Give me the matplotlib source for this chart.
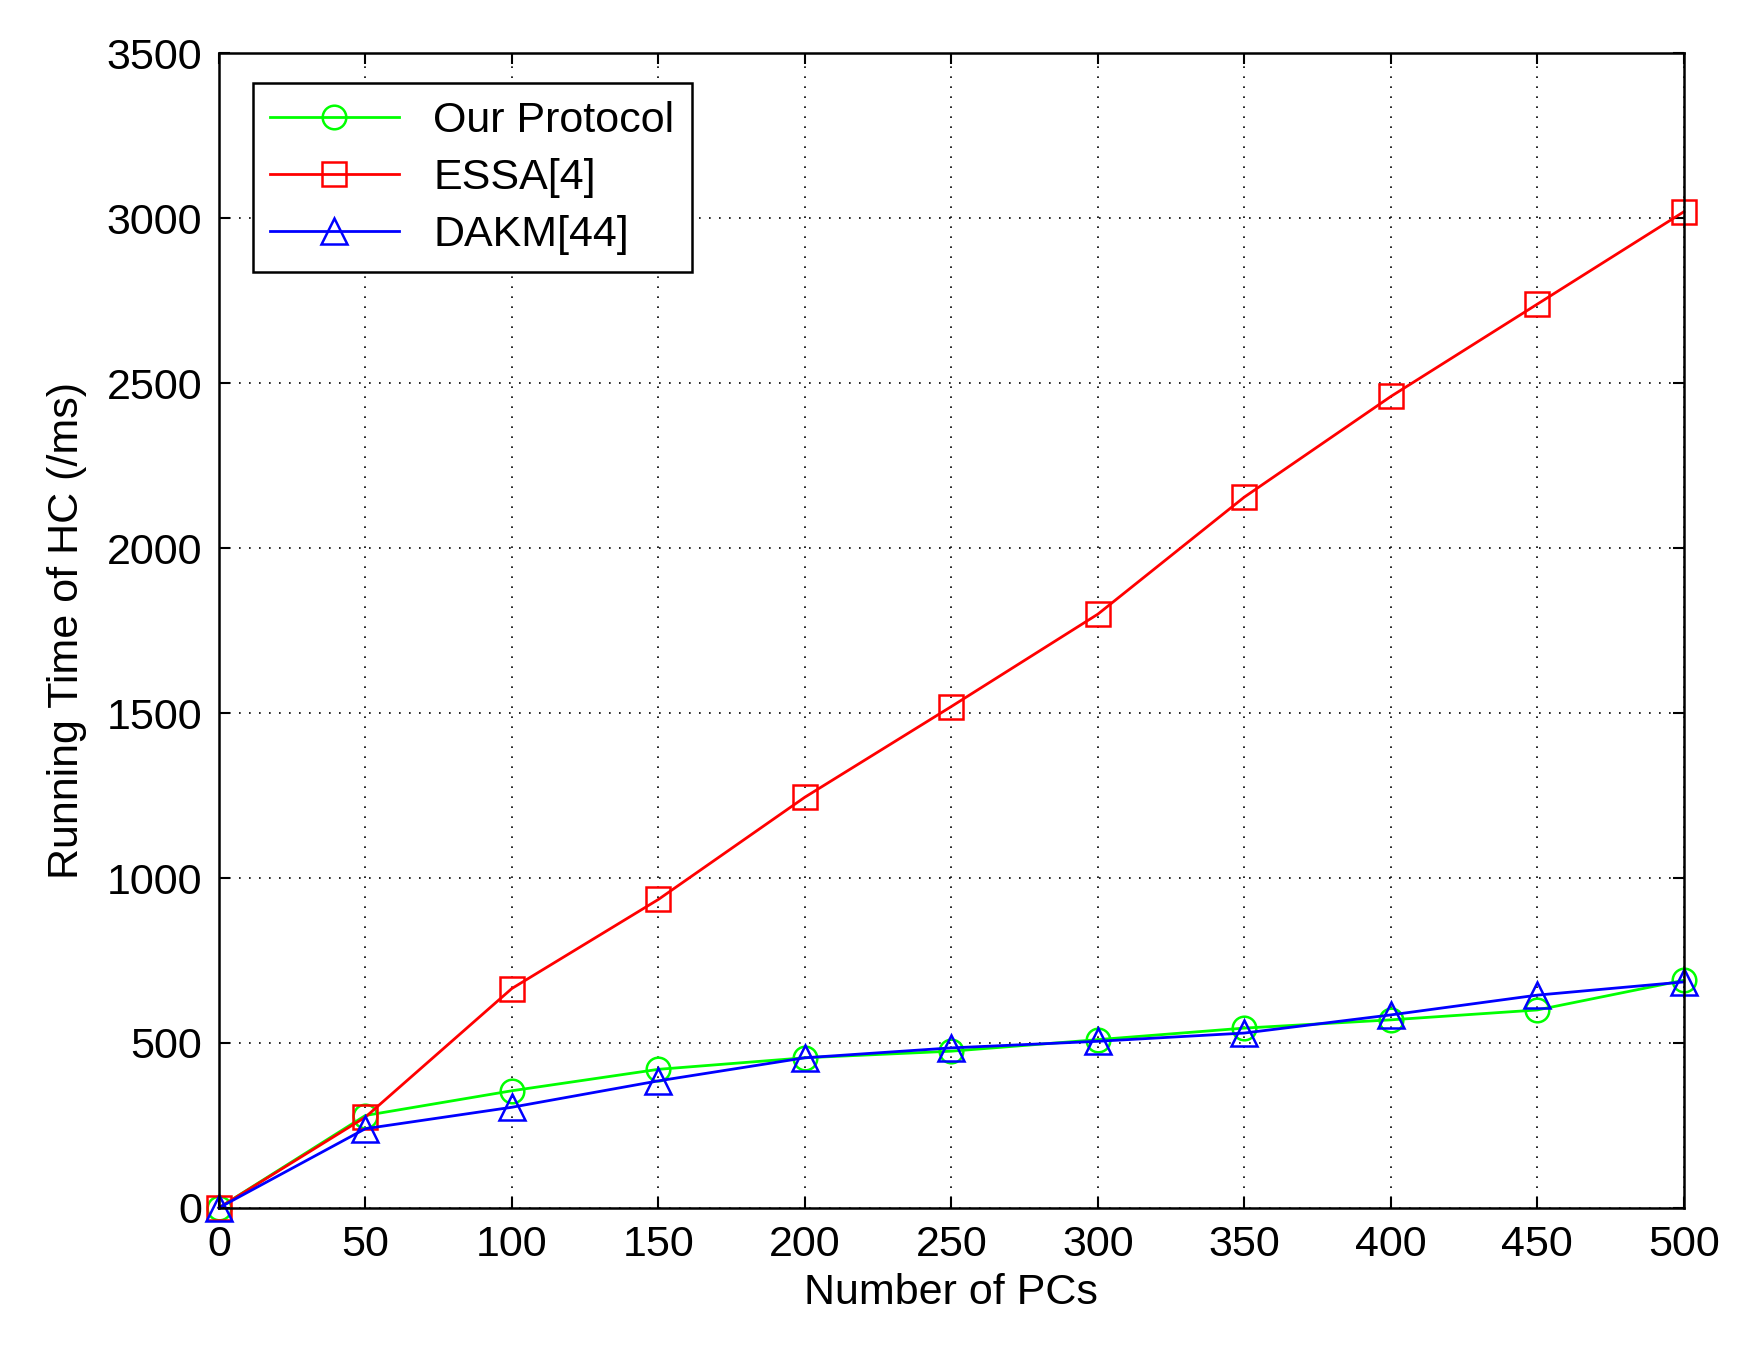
import matplotlib
matplotlib.use("Agg")
import matplotlib.pyplot as plt

pcs = [0, 50, 100, 150, 200, 250, 300, 350, 400, 450, 500]
ours = [0, 280, 355, 420, 455, 475, 510, 545, 570, 600, 690]
essa = [0, 275, 665, 935, 1245, 1520, 1800, 2155, 2460, 2740, 3020]
dakm = [0, 240, 305, 385, 455, 485, 505, 530, 585, 645, 685]

plt.rcParams['font.family'] = ['Liberation Sans', 'DejaVu Sans']
plt.rcParams['font.size'] = 31

fig = plt.figure(figsize=(17.65, 13.71), dpi=100)
ax = fig.add_axes([0.124, 0.119, 0.83, 0.842])

ms = 17
ax.plot(pcs, ours, color='#00ff00', marker='o', ms=ms, mfc='none', mew=1.8, lw=2,
        clip_on=False, label='Our Protocol')
ax.plot(pcs, essa, color='red', marker='s', ms=ms, mfc='none', mew=1.8, lw=2,
        clip_on=False, label='ESSA[4]')
ax.plot(pcs, dakm, color='blue', marker='^', ms=ms + 2, mfc='none', mew=1.8, lw=2,
        clip_on=False, label='DAKM[44]')

ax.set_xlim(0, 500)
ax.set_ylim(0, 3500)
ax.set_xticks(pcs)
ax.set_yticks(range(0, 3501, 500))
ax.grid(True, linestyle=(0, (1, 5)), color='black', lw=1.2)
ax.tick_params(direction='in', length=8, width=1.5, top=True, right=True, pad=12)
for s in ax.spines.values():
    s.set_linewidth(1.8)
ax.set_xlabel("Number of PCs", labelpad=6)
ax.set_ylabel("Running Time of HC (/ms)", labelpad=14)

leg = ax.legend(loc='upper left', bbox_to_anchor=(0.023, 0.974), borderaxespad=0,
                fancybox=False, edgecolor='black', framealpha=1, handlelength=3,
                borderpad=0.4, labelspacing=0.4)
leg.get_frame().set_linewidth(1.8)

fig.savefig("out.png")
